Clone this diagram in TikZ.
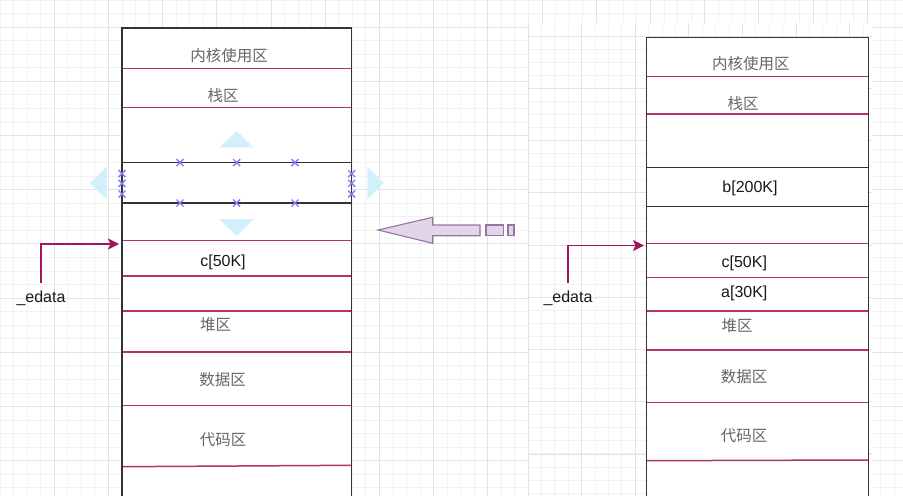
\documentclass[tikz,border=0pt]{standalone}
\usepackage{fontspec}
\setmainfont{Liberation Sans}
\newfontfamily\cjk{Noto Sans CJK SC}
\usetikzlibrary{shapes,arrows.meta,positioning}
\definecolor{cutred}{HTML}{B5306E}
\definecolor{ptrred}{HTML}{A3145C}
\definecolor{wallgray}{HTML}{333333}
\definecolor{zonegray}{HTML}{666666}
\definecolor{lilacfill}{HTML}{E1D5E7}
\definecolor{lilacline}{HTML}{9673A6}
\definecolor{handleblue}{HTML}{D2F0FB}
\definecolor{markblue}{HTML}{7E7EFF}
\definecolor{gridmin}{HTML}{F2F2F2}
\definecolor{gridmaj}{HTML}{E3E3E3}
\tikzstyle{zone}=[font=\cjk\fontsize{15.5}{16}\selectfont,text=zonegray,inner sep=0pt]
\tikzstyle{var}=[font=\fontsize{16}{18}\selectfont,text=black!90,inner sep=0pt]
\tikzstyle{cut}=[draw=cutred,line width=1.5pt]
\tikzstyle{wall}=[draw=wallgray,line width=1.5pt]
\tikzstyle{ptr}=[draw=ptrred,line width=1.5pt,-{Stealth[length=11pt,width=11pt,inset=2.5pt]}]
\tikzstyle{hollow}=[draw=lilacline,fill=lilacfill,line width=1.1pt]
\tikzstyle{handle}=[fill=handleblue]
\tikzstyle{xmark}=[draw=markblue,line width=1.4pt]
\tikzstyle{gmin}=[draw=gridmin,line width=0.9pt]
\tikzstyle{gmaj}=[draw=gridmaj,line width=0.9pt]

\begin{document}
\begin{tikzpicture}[x=1pt,y=-1pt]
\useasboundingbox (0,0) rectangle (903,496);
% grid, left sheet
\foreach \i in {0,...,66} \draw[gmin] (\i*13.55,0) -- (\i*13.55,496);
\foreach \j in {0,...,36} \draw[gmin] (0,\j*13.55) -- (903,\j*13.55);
\foreach \i in {1,...,16} \draw[gmaj] (\i*54.2,0) -- (\i*54.2,496);
\foreach \j in {0,...,8} \draw[gmaj] (0,27.1+\j*54.2) -- (903,27.1+\j*54.2);
% grid, right sheet
\fill[white] (528,23) rectangle (872,496);
\begin{scope}
\clip (528,23) rectangle (872,496);
\foreach \i in {0,...,26} \draw[gmin] (528+\i*13.4,23) -- (528+\i*13.4,496);
\foreach \j in {0,...,36} \draw[gmin] (528,22.94+\j*13.06) -- (872,22.94+\j*13.06);
\foreach \i in {0,...,6} \draw[gmaj] (528+\i*53.6,23) -- (528+\i*53.6,496);
\foreach \j in {0,...,8} \draw[gmaj] (528,36+\j*52.25) -- (872,36+\j*52.25);
\end{scope}

% left memory map
\fill[white] (122,28) rectangle (351.7,496);
\foreach \y in {68.3,107.7,240.7,276,311,352,405.7} \draw[cut] (122,\y) -- (351.7,\y);
\draw[cut] (122,466.7) -- (351.7,465.3);
\draw[wall] (122,162.7) -- (351.7,162.7) (122,203) -- (351.7,203);
\draw[wall] (122,496) -- (122,28) -- (351.7,28) -- (351.7,496);
\node[zone] (lkern) at (229,55.5) {内核使用区};
\node[zone] (lstack) at (223,96) {栈区};
\node[var] (lc) at (223,262) {c[50K]};
\node[zone] (lheap) at (215.5,325) {堆区};
\node[zone] (ldata) at (222.5,379.5) {数据区};
\node[zone] (lcode) at (223,440) {代码区};

% selection handles
\fill[handle] (236.7,131) -- (219.3,147.3) -- (253.3,147.3) -- cycle;
\fill[handle] (236.7,236) -- (219.3,219) -- (253.3,219) -- cycle;
\fill[handle] (90,183) -- (106.7,166.7) -- (106.7,199.3) -- cycle;
\fill[handle] (384,183) -- (367.3,166.7) -- (367.3,199.3) -- cycle;
\foreach \p in {(180,162.7),(236.7,162.7),(295,162.7),(180,203),(236.7,203),(295,203),
  (122,173.7),(122,183.3),(122,194),(351.7,173.7),(351.7,183.3),(351.7,194)}
  \draw[xmark] \p ++(-3.5,-3.5) -- ++(7,7) \p ++(-3.5,3.5) -- ++(7,-7);

\node[var] (led) at (41,298) {\_edata};
\coordinate (lhit) at (119,244);
\draw[ptr,shorten <=7pt] (led.north) |- (lhit);

% moving arrow
\draw[hollow] (378,230) -- (432.7,217.3) -- (432.7,225) -- (480,225) -- (480,235.7)
  -- (432.7,235.7) -- (432.7,243.3) -- cycle;
\draw[hollow] (486,225) rectangle (503.3,235.7);
\draw[hollow] (508,225) rectangle (514,235.7);

% right memory map
\fill[white] (646.7,37.3) rectangle (868.7,496);
\foreach \y in {76.3,114,243.5,277.3,311,350,402.7} \draw[cut] (646.7,\y) -- (868.7,\y);
\draw[cut] (646.7,460.7) -- (868.7,460);
\draw[wall] (646.7,167.7) -- (868.7,167.7) (646.7,206.7) -- (868.7,206.7);
\draw[wall] (646.7,496) -- (646.7,37.3) -- (868.7,37.3) -- (868.7,496);
\node[zone] (rkern) at (750.8,64) {内核使用区};
\node[zone] (rstack) at (743,103.5) {栈区};
\node[var] (rb) at (750,188.5) {b[200K]};
\node[var] (rc) at (744.3,263) {c[50K]};
\node[var] (ra) at (744.3,293) {a[30K]};
\node[zone] (rheap) at (737,325.5) {堆区};
\node[zone] (rdata) at (744,377) {数据区};
\node[zone] (rcode) at (744,436) {代码区};

\node[var] (red) at (568,298) {\_edata};
\coordinate (rhit) at (644,245.5);
\draw[ptr,shorten <=7pt] (red.north) |- (rhit);
\end{tikzpicture}
\end{document}
